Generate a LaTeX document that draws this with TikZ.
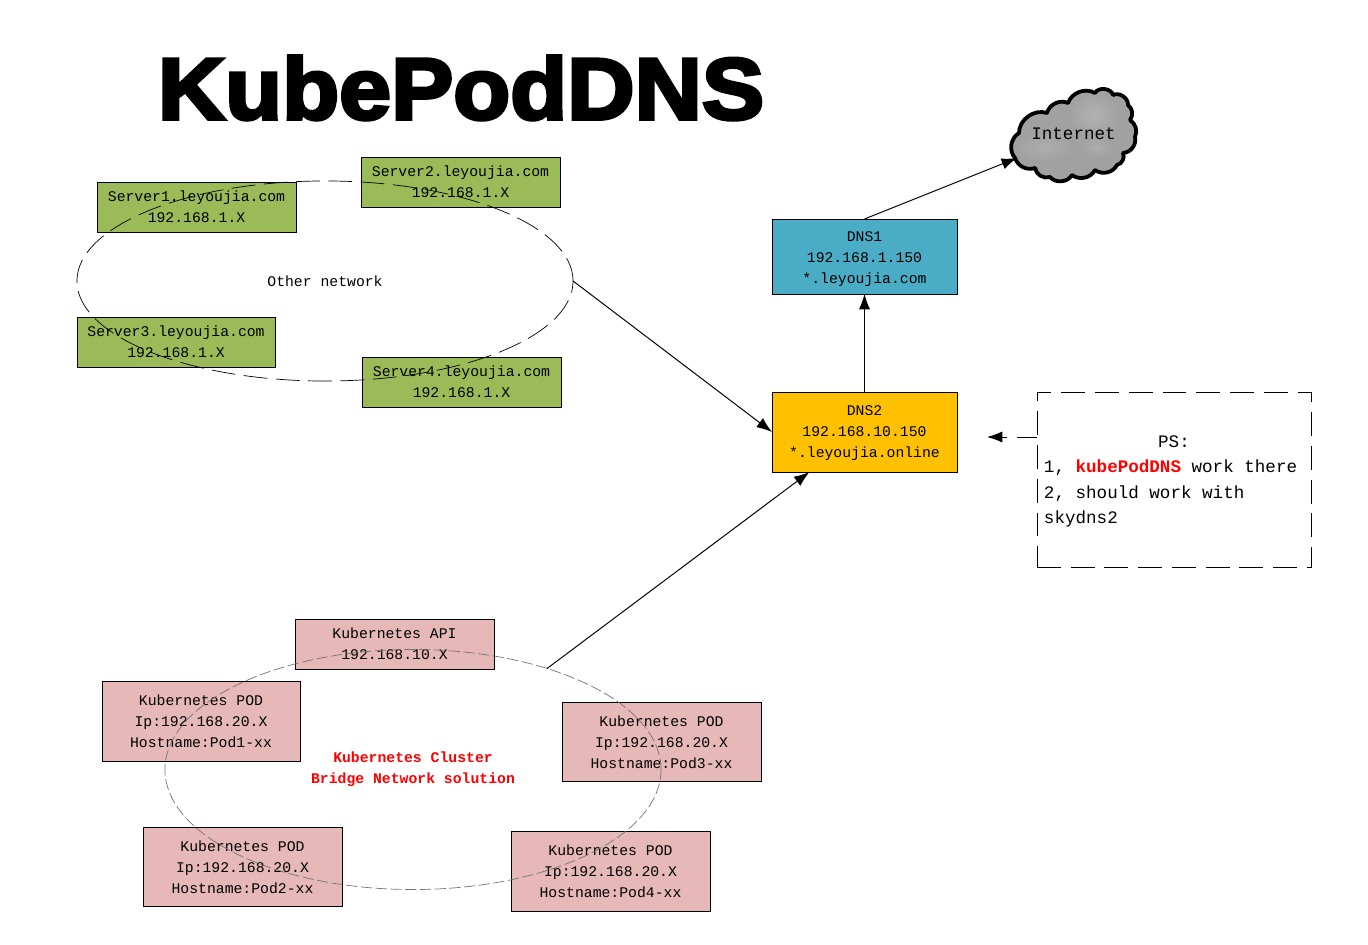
\documentclass[tikz,border=0pt]{standalone}
\usepackage{fontspec}
\usetikzlibrary{arrows.meta,shapes.geometric}

\newfontfamily\bodyfont{Liberation Mono}
\newfontfamily\titlefont[FakeBold=4,FakeStretch=1.07]{Liberation Sans Bold}

\tikzset{
  box/.style={draw=black, line width=0.6pt, inner sep=0pt, outer sep=0pt, align=center,
    font=\bodyfont\fontsize{10.5}{14.9}\selectfont},
  serverbox/.style={box, fill=serverfill, minimum width=4.975cm, minimum height=1.25cm},
  dnsbox/.style={box, minimum width=4.625cm},
  podbox/.style={box, fill=podfill, minimum width=4.975cm, minimum height=1.98cm},
  arrowline/.style={-{Latex[length=11pt,width=8pt]}, line width=0.7pt},
}
\definecolor{serverfill}{HTML}{9BBB59}
\definecolor{podfill}{HTML}{E6B9B8}
\definecolor{dnsonefill}{HTML}{4BACC6}
\definecolor{dnstwofill}{HTML}{FFC000}
\definecolor{cloudfill}{gray}{0.63}
\definecolor{ringgray}{gray}{0.45}

\def\cloudpath{(1015,158) to[bend left=50] (1019,133) to[bend left=55] (1047,113)
  to[bend left=50] (1068,103) to[bend left=50] (1095,93) to[bend left=70] (1113,95)
  to[bend left=60] (1128,105) to[bend left=45] (1130,120) to[bend left=40] (1135,137)
  to[bend left=50] (1123,153) to[bend left=50] (1117,165) to[bend left=50] (1095,170)
  to[bend left=50] (1072,175) to[bend left=55] (1050,177) to[bend left=50] (1035,168)
  to[bend left=45] (1015,158)}

\begin{document}
\begin{tikzpicture}[x=0.025cm,y=-0.025cm]

\useasboundingbox (0,0) rectangle (1368,945);

\node [font=\titlefont\fontsize{62}{62}\selectfont] (title) at (461,88) {KubePodDNS};

%% Other network
\node [serverbox] (server1) at (196.5,207) {Server1.leyoujia.com\\192.168.1.X};
\node [serverbox] (server2) at (460.5,182) {Server2.leyoujia.com\\192.168.1.X};
\node [serverbox, minimum width=4.95cm] (server3) at (176,342) {Server3.leyoujia.com\\192.168.1.X};
\node [serverbox] (server4) at (461.5,382) {Server4.leyoujia.com\\192.168.1.X};
\node [draw=black, ellipse, line width=0.5pt, inner sep=0pt, outer sep=0pt,
  dash pattern=on 17pt off 6pt, minimum width=12.4cm, minimum height=5cm,
  align=center, font=\bodyfont\fontsize{10.5}{14.9}\selectfont] (othernet) at (325,281) {Other network};

%% DNS servers
\node [dnsbox, fill=dnsonefill, minimum height=1.875cm] (dns1) at (864.5,256.5) {\rule{0pt}{10.5pt}DNS1\\192.168.1.150\\*.leyoujia.com};
\node [dnsbox, fill=dnstwofill, minimum height=2cm] (dns2) at (864.5,432) {\rule{0pt}{9pt}DNS2\\192.168.10.150\\*.leyoujia.online};

%% Internet cloud
\fill [cloudfill] \cloudpath;
\shade [inner color=gray!60, outer color=cloudfill] (1094,115) ellipse (26 and 22);
\shade [inner color=gray!64, outer color=cloudfill] (1045,147) ellipse (30 and 15);
\shade [inner color=gray!64, outer color=cloudfill] (1097,147) ellipse (18 and 11);
\draw [line width=2.7pt, line join=round, line cap=round] \cloudpath;
\node [inner sep=0pt, font=\bodyfont\fontsize{12.5}{15}\selectfont] (internet) at (1073.5,134) {Internet};
\coordinate (cloudedge) at (1017,158);

%% PS note
\node [box, draw=black, dash pattern=on 17pt off 7pt, minimum height=4.375cm, text width=6.5cm,
  inner xsep=0.175cm, align=flush left, font=\bodyfont\fontsize{12.5}{18.2}\selectfont] (note) at (1174,479.5)
  {\makebox[\linewidth]{\rule{0pt}{11pt}PS:}\\1, \textcolor{red}{\textbf{kubePodDNS}} work there\\2, should work with\\skydns2};
\coordinate (noteleft) at (1037,437);
\coordinate (notetip) at (987,437);

%% Kubernetes cluster
\node [podbox, minimum height=1.25cm] (kubeapi) at (394.5,644) {Kubernetes API\\192.168.10.X};
\node [podbox, minimum width=4.95cm] (pod1) at (201,721.5) {Kubernetes POD\\Ip:192.168.20.X\\Hostname:Pod1-xx};
\node [podbox] (pod2) at (242.5,867) {Kubernetes POD\\Ip:192.168.20.X\\Hostname:Pod2-xx};
\node [podbox] (pod3) at (661.5,742) {Kubernetes POD\\Ip:192.168.20.X\\Hostname:Pod3-xx};
\node [podbox] (pod4) at (610.5,871.5) {Kubernetes POD\\Ip:192.168.20.X\\Hostname:Pod4-xx};
\node [draw=ringgray, ellipse, line width=0.5pt, inner sep=0pt, outer sep=0pt,
  dash pattern=on 8pt off 2.5pt, minimum width=12.4cm, minimum height=6cm,
  align=center, text=red, font=\bodyfont\bfseries\fontsize{10.5}{14.9}\selectfont] (cluster) at (413,769.5)
  {Kubernetes Cluster\\Bridge Network solution};

%% Connections
\draw [arrowline] (othernet.east) -- (dns2.west);
\draw [arrowline] (cluster.37) -- (dns2.216.5);
\draw [arrowline] (dns2.north) -- (dns1.south);
\draw [arrowline] (dns1.north) -- (cloudedge);
\draw [arrowline, dash pattern=on 14pt off 7pt] (noteleft) -- (notetip);

\end{tikzpicture}
\end{document}
